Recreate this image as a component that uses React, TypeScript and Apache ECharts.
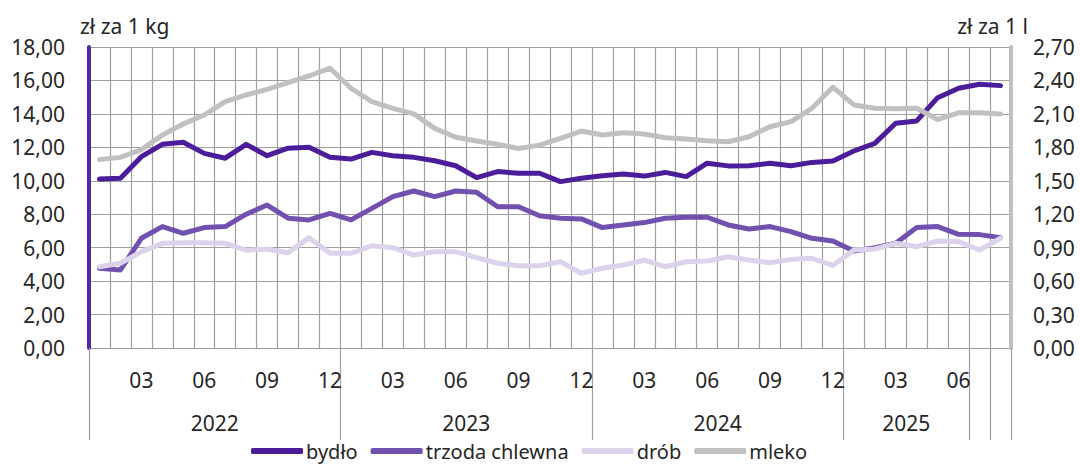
import React, { useEffect, useRef } from "react";
import * as echarts from "echarts";

// Monthly categories: Jan 2022 – Aug 2025
const categories = [
  "01", "02", "03", "04", "05", "06", "07", "08", "09", "10", "11", "12",
  "01", "02", "03", "04", "05", "06", "07", "08", "09", "10", "11", "12",
  "01", "02", "03", "04", "05", "06", "07", "08", "09", "10", "11", "12",
  "01", "02", "03", "04", "05", "06", "07", "08",
];
const shownMonths = ["03", "06", "09", "12"];

// Year groups as in the source (label, number of months)
const yearGroupLabels = ["2022", "2023", "2024", "2025", "", ""];
const yearGroupSizes = [12, 12, 12, 6, 1, 1];

const leftTicks = { min: 0, max: 18, interval: 2 };
const rightTicks = { min: 0, max: 2.7, interval: 0.3 };

const bydlo = [
  10.1, 10.15, 11.44, 12.18, 12.3, 11.64, 11.35, 12.18, 11.5, 11.95, 12.0, 11.4,
  11.3, 11.7, 11.5, 11.4, 11.2, 10.9, 10.19, 10.55, 10.45, 10.45, 9.95, 10.15,
  10.3, 10.4, 10.28, 10.5, 10.25, 11.05, 10.89, 10.9, 11.05, 10.9, 11.1, 11.18,
  11.78, 12.24, 13.44, 13.58, 14.97, 15.53, 15.77, 15.69,
];
const trzoda = [
  4.77, 4.67, 6.56, 7.26, 6.86, 7.2, 7.26, 8.0, 8.55, 7.76, 7.66, 8.05,
  7.66, 8.35, 9.05, 9.39, 9.05, 9.39, 9.31, 8.45, 8.45, 7.91, 7.76, 7.72,
  7.2, 7.36, 7.5, 7.76, 7.82, 7.82, 7.36, 7.12, 7.26, 6.96, 6.56, 6.4,
  5.8, 6.0, 6.26, 7.2, 7.26, 6.8, 6.78, 6.6,
];
const drob = [
  4.86, 5.07, 5.76, 6.26, 6.3, 6.3, 6.26, 5.85, 5.9, 5.7, 6.6, 5.66,
  5.66, 6.12, 6.0, 5.56, 5.76, 5.76, 5.4, 5.07, 4.92, 4.92, 5.16, 4.47,
  4.77, 4.96, 5.25, 4.86, 5.16, 5.2, 5.46, 5.26, 5.1, 5.3, 5.36, 4.94,
  5.86, 5.92, 6.26, 6.06, 6.4, 6.36, 5.86, 6.56,
];
const mleko = [
  1.69, 1.71, 1.78, 1.91, 2.01, 2.09, 2.21, 2.27, 2.32, 2.38, 2.44, 2.51,
  2.33, 2.21, 2.15, 2.1, 1.97, 1.89, 1.857, 1.827, 1.79, 1.82, 1.88, 1.946,
  1.91, 1.93, 1.92, 1.886, 1.875, 1.86, 1.85, 1.895, 1.985, 2.03, 2.15, 2.34,
  2.18, 2.15, 2.145, 2.15, 2.05, 2.11, 2.11, 2.1,
];

const seriesNames = ["bydło", "trzoda chlewna", "drób", "mleko"];
const seriesColors = ["#4b1d9b", "#7150b0", "#dcd2ec", "#c0c0c0"];

const FONT = "Noto Sans";
const FS = 21;
const TEXT = "#262626";
const GRID = "#a0a0a0";

const fmt = (v: number) => v.toFixed(2).replace(".", ",");

export default function App() {
  const ref = useRef<HTMLDivElement>(null);

  useEffect(() => {
    if (!ref.current) return;
    const chart = echarts.init(ref.current, undefined, { renderer: "svg" });

    // half-month positions for the year level of the axis
    const halfCount = categories.length * 2 + 1;
    const yearData: string[] = new Array(halfCount).fill("");
    const tickSet = new Set<number>();
    let start = 0;
    yearGroupSizes.forEach((size, gi) => {
      tickSet.add(start * 2);
      yearData[start * 2 + size] = yearGroupLabels[gi];
      start += size;
    });
    tickSet.add(start * 2);

    const lineSeries = (i: number, data: number[], yAxisIndex = 0) => ({
      name: seriesNames[i],
      type: "line",
      data,
      yAxisIndex,
      xAxisIndex: 0,
      showSymbol: false,
      symbol: "none",
      smooth: false,
      lineStyle: { width: 5, color: seriesColors[i], cap: "round", join: "round" },
      itemStyle: { color: seriesColors[i] },
    });

    chart.setOption({
      animation: false,
      textStyle: { fontFamily: FONT },
      grid: { left: 89, right: 69, top: 47, bottom: 118, containLabel: false },
      legend: {
        left: 246,
        top: 436,
        itemWidth: 52,
        itemHeight: 6,
        itemGap: 13,
        icon: "roundRect",
        textStyle: { fontFamily: FONT, fontSize: 20, color: TEXT, padding: [0, 0, 0, -2] },
        data: seriesNames,
      },
      xAxis: [
        {
          type: "category",
          data: categories,
          boundaryGap: true,
          position: "bottom",
          axisLine: { show: false },
          axisTick: { show: false },
          axisLabel: {
            interval: (_i: number, v: string) => shownMonths.includes(v),
            margin: 21,
            fontSize: FS,
            color: TEXT,
            fontFamily: FONT,
          },
          splitLine: { show: true, interval: 0, lineStyle: { color: GRID, width: 1.2 } },
        },
        {
          type: "category",
          data: yearData,
          boundaryGap: false,
          position: "bottom",
          axisLine: { show: false },
          axisTick: {
            show: true,
            interval: (i: number) => tickSet.has(i),
            length: 92,
            lineStyle: { color: GRID, width: 1.2 },
          },
          axisLabel: {
            interval: (_i: number, v: string) => v !== "",
            margin: 64,
            fontSize: FS,
            color: TEXT,
            fontFamily: FONT,
          },
          splitLine: { show: false },
        },
      ],
      yAxis: [
        {
          type: "value",
          position: "left",
          min: leftTicks.min,
          max: leftTicks.max,
          interval: leftTicks.interval,
          name: "zł za 1 kg",
          nameLocation: "end",
          nameGap: 11,
          nameTextStyle: { fontSize: FS, color: TEXT, fontFamily: FONT, align: "left", padding: [0, 0, 0, -9] },
          axisLine: { show: true, lineStyle: { color: "#5428a6", width: 4 } },
          axisTick: { show: false },
          axisLabel: { formatter: fmt, fontSize: FS, color: TEXT, fontFamily: FONT, margin: 24 },
          splitLine: { show: true, lineStyle: { color: GRID, width: 1.2 } },
        },
        {
          type: "value",
          position: "right",
          min: rightTicks.min,
          max: rightTicks.max,
          interval: rightTicks.interval,
          name: "zł za 1 l",
          nameLocation: "end",
          nameGap: 11,
          nameTextStyle: { fontSize: FS, color: TEXT, fontFamily: FONT, align: "right", padding: [0, -17, 0, 0] },
          axisLine: { show: true, lineStyle: { color: "#bfbfbf", width: 4 } },
          axisTick: { show: false },
          axisLabel: { formatter: fmt, fontSize: FS, color: TEXT, fontFamily: FONT, margin: 22 },
          splitLine: { show: false },
        },
      ],
      series: [
        lineSeries(0, bydlo),
        lineSeries(1, trzoda),
        lineSeries(2, drob),
        lineSeries(3, mleko, 1),
      ],
    });

    return () => chart.dispose();
  }, []);

  return (
    <div
      ref={ref}
      style={{ position: "fixed", left: 0, top: 0, width: 1080, height: 466, background: "#fff" }}
    />
  );
}
